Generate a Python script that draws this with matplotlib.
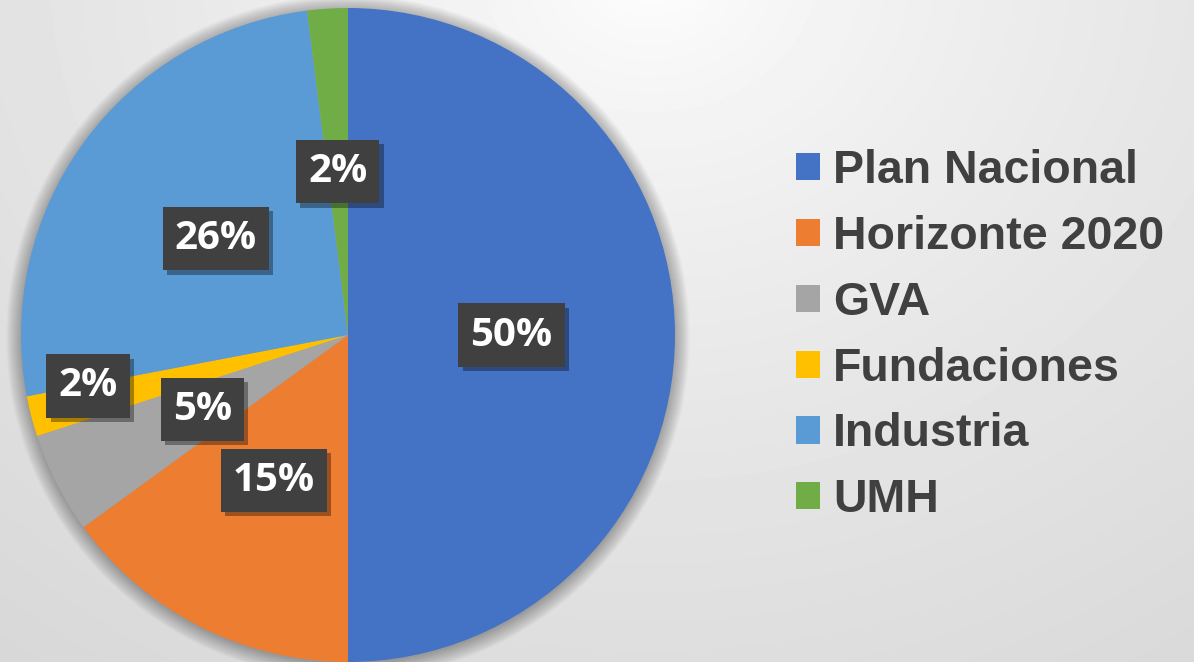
import numpy as np
import matplotlib.pyplot as plt
from matplotlib.patches import Rectangle, Circle
from matplotlib import patheffects as pe

# data
labels = ["Plan Nacional", "Horizonte 2020", "GVA", "Fundaciones", "Industria", "UMH"]
shares = [50, 15, 5, 2, 26, 2]
colors = ["#4472C4", "#ED7D31", "#A5A5A5", "#FFC000", "#5B9BD5", "#70AD47"]

W, H = 1194, 662
fig = plt.figure(figsize=(W / 100, H / 100), dpi=100)

# soft radial background
bg = fig.add_axes([0, 0, 1, 1])
yy, xx = np.mgrid[0:H, 0:W]
d = np.sqrt(((xx - 650) * 0.85) ** 2 + (yy + 30) ** 2)
shade = (255 - 40 * (d / 900) ** 0.7) / 255
bg.imshow(shade, cmap="gray", vmin=0, vmax=1, aspect="auto", extent=[0, W, H, 0])
bg.axis("off")

# pie axes: center (348, 335), radius 327 px
R = 327
ax = fig.add_axes([(348 - R) / W, (H - 335 - R) / H, 2 * R / W, 2 * R / H])

# soft shadow around the pie
for i in range(16):
    c = Circle((0.0, -0.006), 1.0 + 0.003 * i, color="black", alpha=0.02, lw=0, zorder=0)
    c.set_clip_on(False)
    ax.add_patch(c)

wedges, texts, autotexts = ax.pie(
    shares, colors=colors, startangle=90, counterclock=False, radius=1,
    autopct="%1.0f%%", pctdistance=0.5,
    wedgeprops=dict(linewidth=0, zorder=1),
    textprops=dict(color="white", fontsize=29, fontweight="bold", family="Open Sans"),
)
ax.set_xlim(-1, 1)
ax.set_ylim(-1, 1)
ax.axis("off")

# Fundaciones label sits further out
a = np.deg2rad(-168.9)
autotexts[3].set_position((0.81 * np.cos(a), 0.81 * np.sin(a)))

for t in autotexts:
    t.set_bbox(dict(facecolor="#404040", edgecolor="none", boxstyle="square,pad=0.3"))
    t.get_bbox_patch().set_path_effects(
        [pe.SimplePatchShadow(offset=(3, -3), shadow_rgbFace="black", alpha=0.35), pe.Normal()])
    t.set_zorder(5)

handles = [Rectangle((0, 0), 1, 1, facecolor=c, edgecolor="none") for c in colors]
leg = fig.legend(handles, labels, loc="upper left", bbox_to_anchor=(796 / W, 1 - 149 / H),
                 frameon=False, prop=dict(family="Liberation Sans", weight="bold", size=33.5),
                 labelcolor="#404040", handlelength=0.52, handleheight=0.52,
                 handletextpad=0.28, labelspacing=0.47, borderpad=0, borderaxespad=0)

fig.savefig("out.png", dpi=100)
